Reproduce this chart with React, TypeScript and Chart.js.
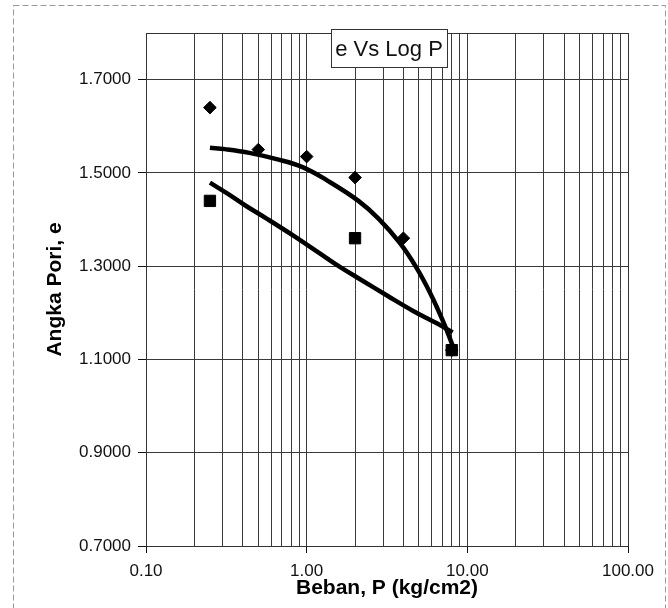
import React, { useEffect, useRef } from "react";
import { Chart, registerables } from "chart.js";

Chart.register(...registerables);

// ---- data ----
const diamondLoad = [0.25, 0.5, 1, 2, 4, 8];
const diamondVoid = [1.64, 1.55, 1.535, 1.49, 1.36, 1.12];

const squareLoad = [0.25, 2, 8];
const squareVoid = [1.44, 1.36, 1.12];

const upperTrendLoad = [0.25, 0.31, 0.44, 0.64, 0.95, 1.4, 2.1, 2.8, 3.8, 4.8, 5.9, 7.1, 8.1];
const upperTrendVoid = [1.554, 1.551, 1.543, 1.53, 1.512, 1.48, 1.44, 1.402, 1.35, 1.298, 1.241, 1.18, 1.13];

const lowerTrendLoad = [0.25, 0.32, 0.42, 0.57, 0.84, 1.2, 1.6, 2.15, 3.2, 4.6, 6.5, 8.1];
const lowerTrendVoid = [1.479, 1.456, 1.429, 1.401, 1.364, 1.328, 1.299, 1.272, 1.236, 1.204, 1.177, 1.158];

const yTickValues = [0.7, 0.9, 1.1, 1.3, 1.5, 1.7];
const xLabelValues = [0.1, 1, 10, 100];
const xGridValues = [
  0.1, 0.2, 0.3, 0.4, 0.5, 0.6, 0.7, 0.8, 0.9,
  1, 2, 3, 4, 5, 6, 7, 8, 9,
  10, 20, 30, 40, 50, 60, 70, 80, 90,
  100,
];

const chartTitle = "e Vs Log P";
const xTitle = "Beban, P (kg/cm2)";
const yTitle = "Angka Pori, e";

const FONT = "'Liberation Sans', Arial, Helvetica, sans-serif";

const pts = (xs: number[], ys: number[]) => xs.map((x, i) => ({ x, y: ys[i] }));

const decorPlugin = {
  id: "decor",
  beforeDraw(chart: any) {
    const { ctx, width, height } = chart;
    ctx.save();
    ctx.fillStyle = "#ffffff";
    ctx.fillRect(0, 0, width, height);
    ctx.strokeStyle = "#9a9a9a";
    ctx.lineWidth = 1;
    ctx.setLineDash([6, 3]);
    ctx.strokeRect(13.5, 5.5, 652, 640);
    ctx.restore();
  },
  afterDraw(chart: any) {
    const { ctx, chartArea: a } = chart;
    ctx.save();
    ctx.strokeStyle = "#333";
    ctx.lineWidth = 1;
    ctx.strokeRect(Math.round(a.left) + 0.5, Math.round(a.top) + 0.5, Math.round(a.right - a.left), Math.round(a.bottom - a.top));
    // title box
    const bw = 116;
    const bh = 38;
    const cx = (a.left + a.right) / 2 + 2;
    const bx = Math.round(cx - bw / 2) + 0.5;
    const by = Math.round(a.top - 4) + 0.5;
    ctx.fillStyle = "#ffffff";
    ctx.fillRect(bx, by, bw, bh);
    ctx.strokeStyle = "#333";
    ctx.strokeRect(bx, by, bw, bh);
    ctx.fillStyle = "#111";
    ctx.font = `22px ${FONT}`;
    ctx.textAlign = "center";
    ctx.textBaseline = "middle";
    ctx.fillText(chartTitle, cx, by + bh / 2 + 1);
    ctx.restore();
  },
};

export default function App() {
  const ref = useRef<HTMLCanvasElement | null>(null);

  useEffect(() => {
    document.body.style.margin = "0";
    const canvas = ref.current;
    if (!canvas) return;
    const chart = new Chart(canvas, {
      type: "scatter",
      data: {
        datasets: [
          {
            label: "squares",
            data: pts(squareLoad, squareVoid),
            pointStyle: "rect",
            pointRadius: 8,
            pointBorderWidth: 1,
            backgroundColor: "#000",
            borderColor: "#000",
            showLine: false,
          },
          {
            label: "diamonds",
            data: pts(diamondLoad, diamondVoid),
            pointStyle: "rectRot",
            pointRadius: 6.3,
            pointBorderWidth: 1,
            backgroundColor: "#000",
            borderColor: "#000",
            showLine: false,
          },
          {
            label: "trend upper",
            data: pts(upperTrendLoad, upperTrendVoid),
            showLine: true,
            pointRadius: 0,
            borderColor: "#000",
            borderWidth: 4.5,
            tension: 0.4,
            fill: false,
          },
          {
            label: "trend lower",
            data: pts(lowerTrendLoad, lowerTrendVoid),
            showLine: true,
            pointRadius: 0,
            borderColor: "#000",
            borderWidth: 4.5,
            tension: 0.4,
            fill: false,
          },
        ],
      },
      options: {
        responsive: false,
        animation: false,
        devicePixelRatio: 1,
        layout: { padding: { left: 10, right: 40, top: 33, bottom: 0 } },
        plugins: {
          legend: { display: false },
          tooltip: { enabled: false },
          title: { display: false },
        },
        scales: {
          x: {
            type: "logarithmic",
            min: 0.1,
            max: 100,
            afterBuildTicks: (scale: any) => {
              scale.ticks = xGridValues.map((v) => ({ value: v, major: xLabelValues.includes(v) }));
            },
            afterFit: (scale: any) => {
              scale.height = 62;
            },
            ticks: {
              autoSkip: false,
              maxRotation: 0,
              minRotation: 0,
              padding: 8,
              color: "#111",
              font: { family: FONT, size: 17 },
              callback: (v: any) => (xLabelValues.includes(Number(v)) ? Number(v).toFixed(2) : ""),
            },
            grid: {
              color: "#3a3a3a",
              lineWidth: 1,
              drawTicks: true,
              tickLength: 7,
              tickColor: (ctx: any) =>
                ctx.tick && xLabelValues.includes(ctx.tick.value) ? "#111" : "rgba(0,0,0,0)",
            },
            border: { display: true, color: "#111", width: 1 },
            title: {
              display: true,
              text: xTitle,
              color: "#000",
              font: { family: FONT, size: 21, weight: "bold" },
              padding: { top: 0, bottom: 7 },
            },
          },
          y: {
            type: "linear",
            min: 0.7,
            max: 1.8,
            afterBuildTicks: (scale: any) => {
              scale.ticks = yTickValues.map((v) => ({ value: v }));
            },
            afterFit: (scale: any) => {
              scale.width = 136;
            },
            ticks: {
              padding: 7,
              color: "#111",
              font: { family: FONT, size: 17 },
              callback: (v: any) => Number(v).toFixed(4),
            },
            grid: {
              color: "#3a3a3a",
              lineWidth: 1,
              drawTicks: true,
              tickLength: 8,
              tickColor: "#111",
            },
            border: { display: true, color: "#111", width: 1 },
            title: {
              display: true,
              text: yTitle,
              color: "#000",
              font: { family: FONT, size: 21, weight: "bold" },
              padding: { top: 33, bottom: 0 },
            },
          },
        },
      },
      plugins: [decorPlugin],
    } as any);
    return () => chart.destroy();
  }, []);

  return (
    <div style={{ width: 668, height: 608, position: "relative" }}>
      <canvas ref={ref} width={668} height={608} style={{ display: "block", width: 668, height: 608 }} />
    </div>
  );
}
